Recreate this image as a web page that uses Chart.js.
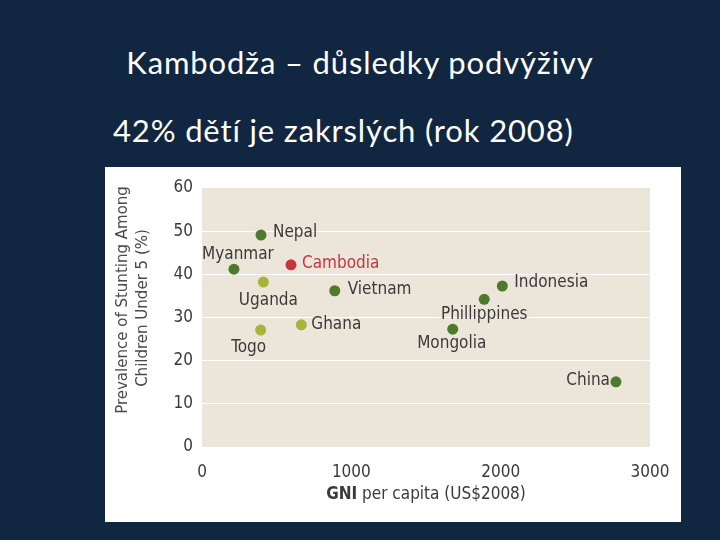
<!DOCTYPE html>
<html>
<head>
<meta charset="utf-8">
<script src="https://cdn.jsdelivr.net/npm/chart.js@4.4.1/dist/chart.umd.min.js"></script>
<style>
  html, body { margin: 0; padding: 0; }
  body { width: 720px; height: 540px; background: #112641; position: relative; overflow: hidden; font-family: Lato, 'Open Sans', sans-serif; }
  .head { position: absolute; color: #fff; white-space: nowrap; font-size: 31px; line-height: 1; letter-spacing: 0.85px; }
  #title { left: 0; width: 720px; text-align: center; top: 47px; }
  #sub { left: 113px; top: 115px; }
  #panel { position: absolute; left: 105px; top: 167px; width: 576px; height: 355px; background: #fff; }
</style>
</head>
<body>
<div class="head" id="title">Kambodža – důsledky podvýživy</div>
<div class="head" id="sub">42% dětí je zakrslých (rok 2008)</div>
<div id="panel"><canvas id="scatter" width="576" height="355"></canvas></div>
<script>
// data
const countries = ['Nepal', 'Myanmar', 'Cambodia', 'Uganda', 'Vietnam', 'Togo', 'Ghana', 'Indonesia', 'Phillippines', 'Mongolia', 'China'];
const gni = [395, 214, 596, 411, 889, 393, 665, 2011, 1890, 1679, 2772];
const stunting = [49.1, 41.2, 42.2, 38.2, 36.2, 27.1, 28.3, 37.3, 34.2, 27.3, 15.1];
const region = ['asia', 'asia', 'cambodia', 'africa', 'asia', 'africa', 'africa', 'asia', 'asia', 'asia', 'asia'];
const xTicks = [0, 1000, 2000, 3000];
const yTicks = [0, 10, 20, 30, 40, 50, 60];
const yTitle = ['Prevalence of Stunting Among', 'Children Under 5 (%)'];
const xTitleBold = 'GNI';
const xTitleRest = ' per capita (US$2008)';

const NARROW = "'Liberation Sans Narrow', 'DejaVu Sans Condensed', sans-serif";
const colours = { asia: '#4e7a2c', africa: '#a9b337', cambodia: '#c8343c' };
// label offset from its point: dx, dy, align
const labelPos = {
    Nepal: [12, -2, 'left'],
    Myanmar: [4, -15, 'center'],
    Cambodia: [11, -1, 'left'],
    Uganda: [5, 18, 'center'],
    Vietnam: [13, -1, 'left'],
    Togo: [-12, 18, 'center'],
    Ghana: [10, 0, 'left'],
    Indonesia: [12, -3, 'left'],
    Phillippines: [0, 15, 'center'],
    Mongolia: [-1, 14, 'center'],
    China: [-6, -1, 'right']
};

const points = countries.map((c, i) => ({ x: gni[i], y: stunting[i], name: c, region: region[i] }));

const decor = {
    id: 'decor',
    beforeDraw(chart) {
        const { ctx, chartArea: a } = chart;
        ctx.save();
        ctx.fillStyle = '#ece6da';
        ctx.fillRect(a.left, a.top, a.right - a.left, a.bottom - a.top);
        ctx.restore();
    },
    afterDraw(chart) {
        const ctx = chart.ctx;
        const meta = chart.getDatasetMeta(0);
        ctx.save();
        ctx.font = '17px ' + NARROW;
        ctx.textBaseline = 'middle';
        meta.data.forEach((pt, i) => {
            const p = labelPos[countries[i]];
            ctx.fillStyle = region[i] === 'cambodia' ? colours.cambodia : '#3a3a3a';
            ctx.textAlign = p[2];
            ctx.fillText(countries[i], pt.x + p[0], pt.y + p[1]);
        });

        // y title, two lines rotated
        ctx.save();
        ctx.translate(18, 133);
        ctx.rotate(-Math.PI / 2);
        ctx.font = '16.7px ' + NARROW;
        ctx.fillStyle = '#4a4a4a';
        ctx.textAlign = 'center';
        ctx.fillText(yTitle[0], 0, 0);
        ctx.fillText(yTitle[1], -8, 20);
        ctx.restore();

        // x title, bold first word
        ctx.fillStyle = '#3a3a3a';
        ctx.textAlign = 'left';
        ctx.font = 'bold 17px ' + NARROW;
        const w1 = ctx.measureText(xTitleBold).width;
        ctx.font = '17px ' + NARROW;
        const w2 = ctx.measureText(xTitleRest).width;
        const x0 = (chart.chartArea.left + chart.chartArea.right) / 2 - (w1 + w2) / 2;
        ctx.font = 'bold 17px ' + NARROW;
        ctx.fillText(xTitleBold, x0, 328);
        ctx.font = '17px ' + NARROW;
        ctx.fillText(xTitleRest, x0 + w1, 328);
        ctx.restore();
    }
};

new Chart(document.getElementById('scatter'), {
    type: 'scatter',
    data: {
        datasets: [{
            data: points,
            pointRadius: 5.5,
            pointHoverRadius: 5.5,
            borderWidth: 0,
            backgroundColor: ctx => colours[ctx.raw ? ctx.raw.region : 'asia']
        }]
    },
    options: {
        responsive: false,
        animation: false,
        layout: { padding: { top: 21, right: 31, left: 0, bottom: 0 } },
        plugins: { legend: { display: false }, tooltip: { enabled: false } },
        scales: {
            x: {
                type: 'linear', min: 0, max: 3000,
                afterBuildTicks: s => { s.ticks = xTicks.map(v => ({ value: v })); },
                afterFit: s => { s.height = 75; },
                grid: { display: false },
                border: { display: false },
                ticks: { padding: 7, color: '#3a3a3a', font: { family: NARROW, size: 17 }, maxRotation: 0, callback: v => String(v) }
            },
            y: {
                min: 0, max: 60,
                afterBuildTicks: s => { s.ticks = yTicks.map(v => ({ value: v })); },
                afterFit: s => { s.width = 97; },
                grid: {
                    drawTicks: false,
                    color: c => (c.tick && (c.tick.value === 0 || c.tick.value === 60)) ? 'rgba(0,0,0,0)' : '#ffffff',
                    lineWidth: 1
                },
                border: { display: false },
                ticks: { padding: 9, color: '#3a3a3a', font: { family: NARROW, size: 17 }, callback: v => String(v) }
            }
        }
    },
    plugins: [decor]
});
</script>
</body>
</html>
